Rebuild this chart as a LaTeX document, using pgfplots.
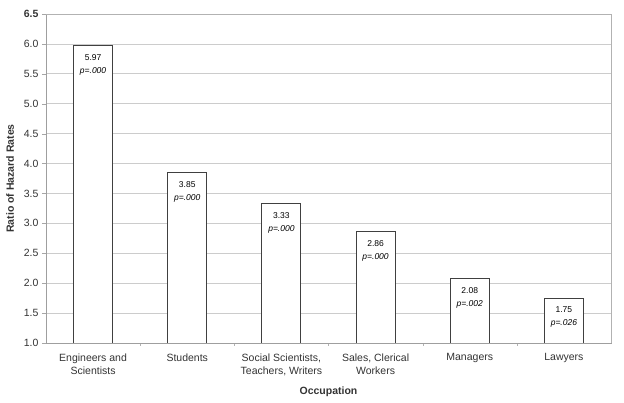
\documentclass[border=0pt]{standalone}
\usepackage{pgfplots}
\pgfplotsset{compat=1.18}
\usepackage{fontspec}
\setmainfont{Liberation Sans}

\begin{document}
\begin{tikzpicture}
\begin{axis}[
    name=ax,
    scale only axis,
    width=565pt, height=329pt,
    ybar, bar width=39pt,
    xmin=-0.5, xmax=5.5,
    ymin=1, ymax=6.5,
    xtick={0,1,2,3,4,5},
    xticklabels={Engineers and\\Scientists, Students, {Social Scientists,\\Teachers, Writers}, {Sales, Clerical\\Workers}, Managers, Lawyers},
    xticklabel style={align=center, yshift=-3pt, font=\fontsize{10.5}{13.5}\selectfont, text=black!80},
    major x tick style={draw=none},
    minor xtick={0.5,1.5,2.5,3.5,4.5},
    minor x tick style={gray!60},
    minor tick length=3pt,
    ytick={1,1.5,2,2.5,3,3.5,4,4.5,5,5.5,6,6.5},
    yticklabels={1.0,1.5,2.0,2.5,3.0,3.5,4.0,4.5,5.0,5.5,6.0,\textbf{6.5}},
    yticklabel style={font=\fontsize{10.5}{12}\selectfont, text=black!80},
    y tick style={gray!70},
    major tick length=4pt,
    tick align=outside,
    tick pos=left,
    ymajorgrids=true,
    grid style={gray!40, line width=0.8pt},
    axis line style={gray!75, line width=0.8pt},
    ylabel={\textbf{Ratio of Hazard Rates}},
    xlabel={\textbf{Occupation}},
    every axis y label/.style={at={([xshift=-36pt]axis description cs:0,0.5)}, rotate=90, anchor=center, font=\fontsize{10.5}{12}\selectfont, text=black!80},
    every axis x label/.style={at={([yshift=-49pt]axis description cs:0.5,0)}, anchor=center, font=\fontsize{10.5}{12}\selectfont, text=black!80},
    nodes near coords,
    point meta=explicit symbolic,
    every node near coord/.append style={align=center, anchor=north, yshift=-5pt, font=\fontsize{8.5}{13}\selectfont, text=black},
]
\addplot[draw=black!75, fill=white, line width=0.9pt] coordinates {
    (0,5.97) [{5.97\\\textit{p=.000}}]
    (1,3.85) [{3.85\\\textit{p=.000}}]
    (2,3.33) [{3.33\\\textit{p=.000}}]
    (3,2.86) [{2.86\\\textit{p=.000}}]
    (4,2.08) [{2.08\\\textit{p=.002}}]
    (5,1.75) [{1.75\\\textit{p=.026}}]
};
\end{axis}
\draw[gray!60, line width=0.8pt] (ax.north west) -- (ax.north east) -- (ax.south east);
\path ([xshift=-46pt,yshift=-60pt]ax.south west) rectangle ([xshift=13pt,yshift=14pt]ax.north east);
\end{tikzpicture}
\end{document}
